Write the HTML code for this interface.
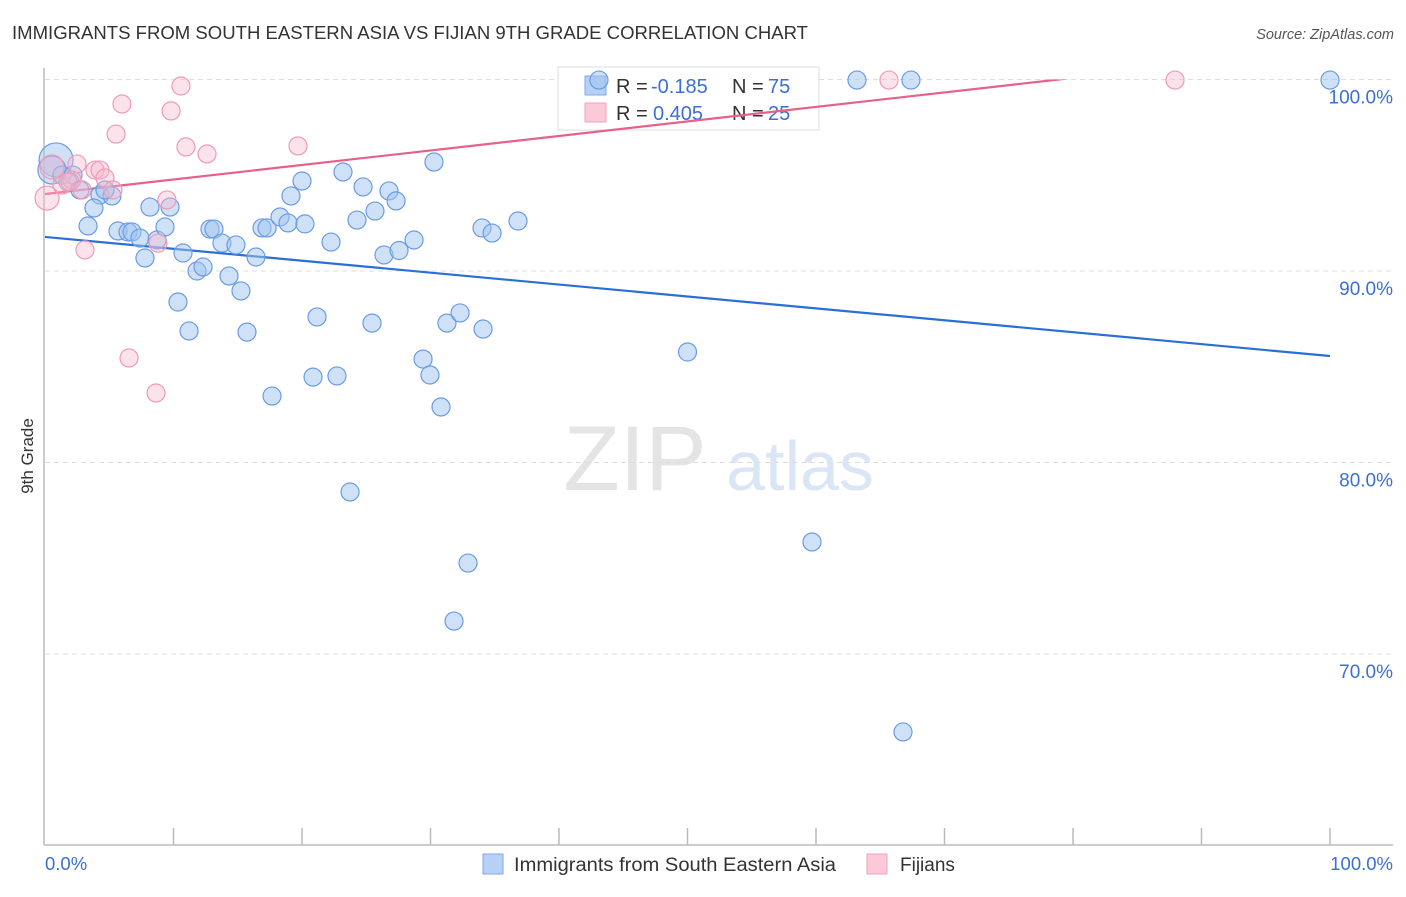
<!DOCTYPE html>
<html><head><meta charset="utf-8"><style>
body{margin:0;background:#fff;font-family:"Liberation Sans",sans-serif}
svg text{font-family:"Liberation Sans",sans-serif}
</style></head><body>
<svg id="chart" width="1406" height="892" xmlns="http://www.w3.org/2000/svg">
<text x="12" y="39" font-size="18.5" fill="#333" textLength="796" lengthAdjust="spacingAndGlyphs">IMMIGRANTS FROM SOUTH EASTERN ASIA VS FIJIAN 9TH GRADE CORRELATION CHART</text>
<text x="1394" y="39" font-size="14.5" fill="#555" font-style="italic" text-anchor="end">Source: ZipAtlas.com</text>
<text transform="translate(33,456) rotate(-90)" font-size="17" fill="#333" text-anchor="middle">9th Grade</text>
<g opacity="0.9">
<text x="635" y="490" font-size="92" fill="#e2e2e2" font-family="Liberation Serif" text-anchor="middle">ZIP</text>
<text x="800" y="490" font-size="70" fill="#d6e3f5" text-anchor="middle">atlas</text>
</g>
<g id="grid"></g>
<g id="axes"></g>
<g>
<rect x="558" y="67" width="261" height="63" fill="#fff" stroke="#ddd"/>
<rect x="585" y="76" width="21" height="19" fill="#b7d0f5" stroke="#7fa8e8"/>
<text x="616" y="93" font-size="20" fill="#333">R = </text><text x="651" y="93" font-size="20" fill="#3b6fd4">-0.185</text>
<text x="732" y="93" font-size="20" fill="#333">N = </text><text x="768" y="93" font-size="20" fill="#3b6fd4">75</text>
<rect x="585" y="103" width="21" height="19" fill="#fbc9d8" stroke="#f2a3bb"/>
<text x="616" y="120" font-size="20" fill="#333">R = </text><text x="653" y="120" font-size="20" fill="#3b6fd4">0.405</text>
<text x="732" y="120" font-size="20" fill="#333">N = </text><text x="768" y="120" font-size="20" fill="#3b6fd4">25</text>
</g>
<g id="lines"></g>
<g id="points"></g>
<g>
<rect x="483" y="854" width="20" height="20" fill="#b7d0f5" stroke="#7fa8e8"/>
<text x="514" y="871" font-size="19" fill="#333" textLength="322" lengthAdjust="spacingAndGlyphs">Immigrants from South Eastern Asia</text>
<rect x="867" y="854" width="20" height="20" fill="#fbc9d8" stroke="#f2a3bb"/>
<text x="900" y="871" font-size="19" fill="#333">Fijians</text>
</g>
<text x="45" y="870" font-size="18.5" fill="#3b6fd4">0.0%</text>
<text x="1393" y="870" font-size="18.5" fill="#3b6fd4" text-anchor="end">100.0%</text>
</svg>
<script>
const blueX=[0.86,0.54,1.32,1.95,2.18,2.72,4.28,5.21,4.67,3.35,3.81,5.68,6.46,6.77,7.39,7.78,8.17,8.72,9.34,9.73,10.35,10.74,11.21,11.83,12.30,12.84,13.15,13.77,14.32,14.86,15.25,15.72,16.42,16.89,17.28,17.67,18.29,18.91,19.14,20.0,20.23,20.86,21.17,22.26,22.72,23.19,23.74,24.28,24.75,25.45,25.68,26.38,26.77,27.32,27.55,28.72,29.42,29.96,30.27,30.82,31.28,31.83,32.30,32.92,34.01,34.09,34.79,36.81,43.11,50.0,59.69,63.19,66.77,67.39,100];
const blueY=[95.80,95.27,95.01,94.65,95.01,94.23,93.97,93.92,94.23,92.35,93.29,92.09,92.04,92.04,91.72,90.68,93.34,91.62,92.30,93.34,88.38,90.94,86.87,90.0,90.21,92.19,92.19,91.46,89.74,91.36,88.96,86.81,90.73,92.25,92.25,83.47,92.82,92.51,93.92,94.70,92.46,84.46,87.60,91.51,84.52,95.17,78.46,92.66,94.39,87.28,93.13,90.84,94.18,93.66,91.07,91.62,85.40,84.57,95.69,82.90,87.28,71.72,87.81,74.75,92.25,86.97,91.98,92.61,99.97,85.77,75.85,99.97,65.93,99.97,99.97];
const blueR=[17,14,9,9,9,9,9,9,9,9,9,9,9,9,9,9,9,9,9,9,9,9,9,9,9,9,9,9,9,9,9,9,9,9,9,9,9,9,9,9,9,9,9,9,9,9,9,9,9,9,9,9,9,9,9,9,9,9,9,9,9,9,9,9,9,9,9,9,9,9,9,9,9,9,9];
const pinkX=[0.54,0.16,1.32,2.49,2.10,3.11,3.89,4.28,4.67,5.29,5.53,5.99,6.54,8.64,8.79,9.49,9.81,10.58,10.97,12.61,19.69,65.68,87.94,1.79,2.88];
const pinkY=[95.43,93.81,94.49,95.59,94.75,91.10,95.27,95.27,94.86,94.23,97.15,98.72,85.46,83.63,91.46,93.71,98.36,99.66,96.48,96.11,96.53,99.97,99.97,94.65,94.23];
const pinkR=[12,12,9,9,9,9,9,9,9,9,9,9,9,9,9,9,9,9,9,9,9,9,9,9,9];
const blueTrend=[91.78,85.56];
const pinkTrend=[94.02,101.6];
const yTicks=[100,90,80,70];
const yTickLabels=["100.0%","90.0%","80.0%","70.0%"];
const xTicks=[10,20,30,40,50,60,70,80,90,100];

const NS="http://www.w3.org/2000/svg";
const xs=v=>45+v*12.85;
const ys=v=>79.5+(100-v)*19.15;
function mk(tag,attrs,parent){const e=document.createElementNS(NS,tag);for(const k in attrs)e.setAttribute(k,attrs[k]);parent.appendChild(e);return e;}
const grid=document.getElementById('grid'),axes=document.getElementById('axes'),lines=document.getElementById('lines'),pts=document.getElementById('points');
yTicks.forEach((t,i)=>{
 const l=mk('line',{x1:45,x2:1393,y1:ys(t),y2:ys(t),stroke:'#ddd','stroke-dasharray':'5,4'},grid);
 
 
 const tx=mk('text',{x:1393,y:ys(t)+24,'font-size':19,fill:'#3b6fd4','text-anchor':'end'},grid);
 tx.textContent=yTickLabels[i];
 
 
});
let a=mk('line',{x1:44,x2:44,y1:68,y2:845,stroke:'#bbb','stroke-width':1.5},axes);


a=mk('line',{x1:44,x2:1393,y1:845,y2:845,stroke:'#bbb','stroke-width':1.5},axes);


xTicks.forEach(t=>{
 const l=mk('line',{x1:xs(t),x2:xs(t),y1:828,y2:845,stroke:'#bbb','stroke-width':1.5},axes);
 
 
});
const defs=mk('defs',{},lines);
const cp=mk('clipPath',{id:'clip'},defs);
mk('rect',{x:44,y:ys(100),width:1300,height:800},cp);
function trend(vals,color,name){
 const l=mk('line',{x1:xs(0),y1:ys(vals[0]),x2:xs(100),y2:ys(vals[1]),stroke:color,'stroke-width':2.2,'clip-path':'url(#clip)'},lines);
 
 
}
trend(blueTrend,'#2a6fd6','trend-line-sea');
trend(pinkTrend,'#e8608a','trend-line-fijians');
blueX.forEach((x,i)=>{
 const c=mk('circle',{cx:xs(x),cy:ys(blueY[i]),r:blueR[i],fill:'rgba(160,195,240,0.5)',stroke:'#6a9be6','stroke-width':1.2},pts);
 
 
});
pinkX.forEach((x,i)=>{
 const c=mk('circle',{cx:xs(x),cy:ys(pinkY[i]),r:pinkR[i],fill:'rgba(248,185,205,0.4)',stroke:'#f09ab4','stroke-width':1.2},pts);
 
 
});
</script>
</body></html>
